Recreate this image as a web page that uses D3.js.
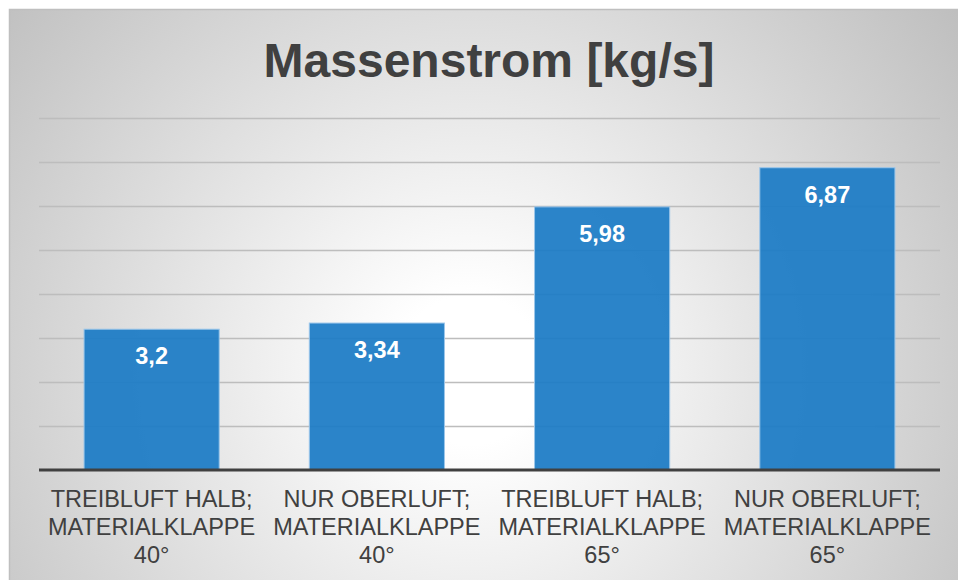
<!DOCTYPE html>
<html>
<head>
<meta charset="utf-8">
<script src="https://cdn.jsdelivr.net/npm/d3@7"></script>
<style>
  html, body { margin: 0; padding: 0; background: #ffffff; }
  svg { display: block; font-family: "Liberation Sans", Arial, sans-serif; }
</style>
</head>
<body>
<svg id="chart" width="958" height="580"></svg>
<script>
// Mass flow per configuration
const categories = [
  ["TREIBLUFT HALB;", "MATERIALKLAPPE", "40°"],
  ["NUR OBERLUFT;", "MATERIALKLAPPE", "40°"],
  ["TREIBLUFT HALB;", "MATERIALKLAPPE", "65°"],
  ["NUR OBERLUFT;", "MATERIALKLAPPE", "65°"]
];
const values = [3.2, 3.34, 5.98, 6.87];
const valueLabels = ["3,2", "3,34", "5,98", "6,87"];
const gridTicks = [1, 2, 3, 4, 5, 6, 7, 8];
const title = "Massenstrom [kg/s]";

const svg = d3.select("#chart");
const W = 958, H = 580;

// Background with soft radial shading
const defs = svg.append("defs");
const grad = defs.append("radialGradient")
  .attr("id", "bg")
  .attr("gradientUnits", "userSpaceOnUse")
  .attr("cx", 470).attr("cy", 370).attr("r", 620);
grad.append("stop").attr("offset", "0%").attr("stop-color", "#ffffff");
grad.append("stop").attr("offset", "12%").attr("stop-color", "#ffffff");
grad.append("stop").attr("offset", "100%").attr("stop-color", "#bdbdbd");

svg.append("rect")
  .attr("x", 9.5).attr("y", 9.5)
  .attr("width", W + 20).attr("height", H + 20)
  .attr("fill", "url(#bg)")
  .attr("stroke", "#bfbfbf")
  .attr("stroke-width", 1.5);

const plot = { left: 39, right: 940, top: 118, bottom: 470 };

const x = d3.scaleBand()
  .domain(d3.range(values.length))
  .range([plot.left, plot.right])
  .paddingInner(0.4)
  .paddingOuter(0.2);

const y = d3.scaleLinear()
  .domain([0, 8])
  .range([plot.bottom, plot.top]);

// Horizontal gridlines
svg.append("g")
  .attr("transform", `translate(${plot.left},0)`)
  .call(d3.axisLeft(y).tickValues(gridTicks)
    .tickSize(-(plot.right - plot.left)).tickFormat(""))
  .call(g => g.select(".domain").remove())
  .call(g => g.selectAll(".tick line")
    .attr("stroke", "#bdbdbd").attr("stroke-width", 1.5));

// Bars
svg.append("g").selectAll("rect")
  .data(values)
  .join("rect")
  .attr("x", (d, i) => x(i))
  .attr("y", d => y(d))
  .attr("width", x.bandwidth())
  .attr("height", d => y(0) - y(d))
  .attr("fill", "#1e7cc6")
  .attr("fill-opacity", 0.94)
  .attr("stroke", "#9cc6ea")
  .attr("stroke-width", 1);

// Value labels inside bar tops
svg.append("g").selectAll("text")
  .data(values)
  .join("text")
  .attr("x", (d, i) => x(i) + x.bandwidth() / 2)
  .attr("y", d => y(d) + 35)
  .attr("text-anchor", "middle")
  .attr("fill", "#ffffff")
  .attr("font-weight", "bold")
  .attr("font-size", 23.5)
  .text((d, i) => valueLabels[i]);

// Category axis
const xAxis = svg.append("g")
  .attr("transform", `translate(0,${plot.bottom})`)
  .call(d3.axisBottom(x).tickSize(0).tickFormat(""));
xAxis.select(".domain")
  .attr("stroke", "#404040")
  .attr("stroke-width", 3)
  .attr("d", `M${plot.left},0H${plot.right}`);

const catLabels = svg.append("g").selectAll("text")
  .data(categories)
  .join("text")
  .attr("text-anchor", "middle")
  .attr("fill", "#404040")
  .attr("font-size", 23.5);
catLabels.selectAll("tspan")
  .data((d, i) => d.map(line => ({ line, i })))
  .join("tspan")
  .attr("x", d => x(d.i) + x.bandwidth() / 2)
  .attr("y", (d, j) => 507 + j * 28)
  .text(d => d.line);

// Title
svg.append("text")
  .attr("x", 489)
  .attr("y", 77)
  .attr("text-anchor", "middle")
  .attr("fill", "#404040")
  .attr("font-weight", "bold")
  .attr("font-size", 48)
  .text(title);
</script>
</body>
</html>
